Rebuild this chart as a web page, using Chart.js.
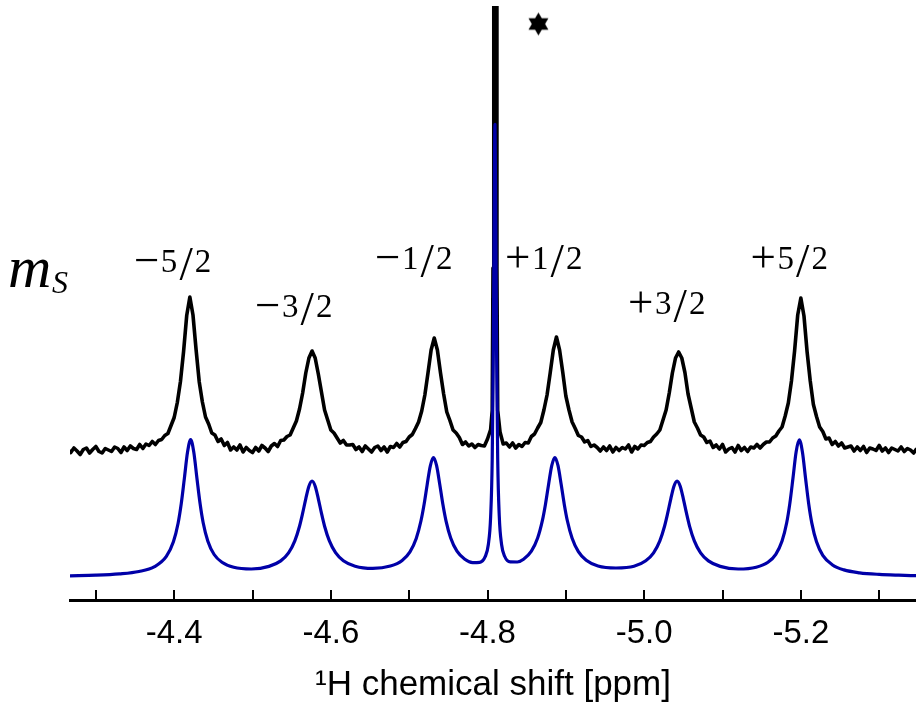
<!DOCTYPE html>
<html>
<head>
<meta charset="utf-8">
<script src="https://cdn.jsdelivr.net/npm/chart.js@4/dist/chart.umd.min.js"></script>
<style>
  html, body { margin: 0; padding: 0; background: #ffffff; }
  #wrap { width: 916px; height: 708px; }
</style>
</head>
<body>
<div id="wrap"><canvas id="spectrum" width="916" height="708"></canvas></div>
<script>
// 1H NMR spectrum: measured trace (black, offset) and simulated trace (blue).

// x-axis ticks (ppm) and their printed labels
const tickPositions = [-4.3, -4.4, -4.5, -4.6, -4.7, -4.8, -4.9, -5.0, -5.1, -5.2, -5.3];
const tickLabels    = ['', '-4.4', '', '-4.6', '', '-4.8', '', '-5.0', '', '-5.2', ''];

// spin-state labels for the six hyperfine lines
const spinLabels = ['\u22125/2', '\u22123/2', '\u22121/2', '+1/2', '+3/2', '+5/2'];

// measured spectrum: chemical shift (ppm) and intensity (a.u., offset trace)
const expShift = [
  -4.264,-4.268,-4.272,-4.276,-4.280,-4.284,-4.288,-4.292,-4.296,-4.300,
  -4.304,-4.308,-4.312,-4.316,-4.320,-4.324,-4.328,-4.332,-4.336,-4.340,
  -4.344,-4.348,-4.352,-4.356,-4.360,-4.364,-4.368,-4.372,-4.376,-4.380,
  -4.384,-4.388,-4.392,-4.396,-4.400,-4.404,-4.408,-4.412,-4.416,-4.420,
  -4.424,-4.428,-4.432,-4.436,-4.440,-4.444,-4.448,-4.452,-4.456,-4.460,
  -4.464,-4.468,-4.472,-4.476,-4.480,-4.484,-4.488,-4.492,-4.496,-4.500,
  -4.504,-4.508,-4.512,-4.516,-4.520,-4.524,-4.528,-4.532,-4.536,-4.540,
  -4.544,-4.548,-4.552,-4.556,-4.560,-4.564,-4.568,-4.572,-4.576,-4.580,
  -4.584,-4.588,-4.592,-4.596,-4.600,-4.604,-4.608,-4.612,-4.616,-4.620,
  -4.624,-4.628,-4.632,-4.636,-4.640,-4.644,-4.648,-4.652,-4.656,-4.660,
  -4.664,-4.668,-4.672,-4.676,-4.680,-4.684,-4.688,-4.692,-4.696,-4.700,
  -4.704,-4.708,-4.712,-4.716,-4.720,-4.724,-4.728,-4.732,-4.736,-4.740,
  -4.744,-4.748,-4.752,-4.756,-4.760,-4.764,-4.768,-4.772,-4.776,-4.780,
  -4.784,-4.788,-4.792,-4.796,-4.800,
  -4.804,-4.806,-4.807,-4.808,-4.8095,-4.811,-4.812,-4.813,-4.816,
  -4.820,-4.824,-4.828,-4.832,-4.836,-4.840,-4.844,-4.848,-4.852,-4.856,-4.860,
  -4.864,-4.868,-4.872,-4.876,-4.880,-4.884,-4.888,-4.892,-4.896,-4.900,
  -4.904,-4.908,-4.912,-4.916,-4.920,-4.924,-4.928,-4.932,-4.936,-4.940,
  -4.944,-4.948,-4.952,-4.956,-4.960,-4.964,-4.968,-4.972,-4.976,-4.980,
  -4.984,-4.988,-4.992,-4.996,-5.000,-5.004,-5.008,-5.012,-5.016,-5.020,
  -5.024,-5.028,-5.032,-5.036,-5.040,-5.044,-5.048,-5.052,-5.056,-5.060,
  -5.064,-5.068,-5.072,-5.076,-5.080,-5.084,-5.088,-5.092,-5.096,-5.100,
  -5.104,-5.108,-5.112,-5.116,-5.120,-5.124,-5.128,-5.132,-5.136,-5.140,
  -5.144,-5.148,-5.152,-5.156,-5.160,-5.164,-5.168,-5.172,-5.176,-5.180,
  -5.184,-5.188,-5.192,-5.196,-5.200,-5.204,-5.208,-5.212,-5.216,-5.220,
  -5.224,-5.228,-5.232,-5.236,-5.240,-5.244,-5.248,-5.252,-5.256,-5.260,
  -5.264,-5.268,-5.272,-5.276,-5.280,-5.284,-5.288,-5.292,-5.296,-5.300,
  -5.304,-5.308,-5.312,-5.316,-5.320,-5.324,-5.328,-5.332,-5.336,-5.340,
  -5.344,-5.348
];
const expIntensity = [
  150.5,147.5,152,149,145.5,150.5,152,147,150.5,153.5,
  148.5,147,151.5,150,148.5,153,151.5,147.5,153,149.5,
  154,151.5,150.5,155.5,151.5,156,154.5,158.5,155.5,159.5,
  160.5,164.5,166.5,174.5,182.5,197.5,218.5,248.5,284.5,303,
  285,250,218,198,183,176,167,165,158.5,161,
  154.5,157.5,150,153,150,155,148,152.5,149.5,147.5,
  152.5,149,154.5,152,148.5,154,156.5,153.5,159.5,160,
  163.5,165,172,179,191,207,227,242,249,242,
  226,208,190,180,170,167,162,157,159.5,155,
  155,155.5,150.5,153,148.5,154,151,148,152.5,154,
  149.5,153,148,153.5,152.5,156.5,153,157.5,158.5,163,
  165.5,171.5,178,189,205,227,250,262,250,227,
  206,188,179.5,170,167,162.5,155.5,158,154,156,
  152.5,155.5,154.5,154,161,
  170.5,189.5,332,702,1400,702,332,189.5,168,
  156,157,153,157,152,155.5,153.5,157.5,157,163.5,166,
  172,177.5,190,205,227,250,263,250,228,204,
  190,178,171.5,164.5,163,158,159.5,153.5,155,152.5,
  149,153,149.5,154,148,152.5,149.5,152.5,151,155,
  148,153.5,151,155,154.5,157.5,158.5,163,166,170,
  180,190,207,227,242,248,242,227.5,206,192,
  178,172,165,163,157.5,159,152.5,155,151,155.5,
  148,151,152.5,148,154.5,149.5,152.5,148.5,153,152,
  155.5,152,155.5,158,158,162,164,169,173,184,
  197,219,249,285,302,284,248,219,195.5,183.5,
  173,168.5,161,162,155.5,158.5,154,157,152,153,
  154,149,153,149.5,153.5,147.5,152,151,149.5,154.5,
  149,152,147.5,152,150.5,149,153,148.5,151.5,150,
  147,151.5
];

// simulated spectrum: chemical shift (ppm) and intensity (a.u.)
const simShift = [
  -4.267,-4.300,-4.330,-4.355,-4.375,-4.390,-4.399,-4.405,-4.409,-4.413,-4.417,
  -4.421,-4.425,-4.429,-4.433,-4.437,-4.443,-4.451,-4.461,-4.476,-4.4985,
  -4.521,-4.536,-4.546,-4.554,-4.560,-4.564,-4.568,-4.572,-4.576,-4.580,
  -4.584,-4.588,-4.592,-4.598,-4.606,-4.616,-4.631,-4.6535,
  -4.676,-4.691,-4.701,-4.709,-4.715,-4.719,-4.723,-4.727,-4.731,-4.735,
  -4.739,-4.743,-4.747,-4.753,-4.761,-4.771,-4.781,-4.790,-4.797,-4.801,
  -4.804,-4.806,-4.8075,-4.8085,-4.8095,-4.8105,-4.8115,-4.813,-4.815,-4.818,
  -4.822,-4.829,-4.838,-4.846,-4.856,-4.864,-4.870,-4.874,-4.878,-4.882,
  -4.886,-4.890,-4.894,-4.898,-4.902,-4.908,-4.916,-4.926,-4.941,-4.964,
  -4.987,-5.002,-5.012,-5.020,-5.026,-5.030,-5.034,-5.038,-5.042,-5.046,
  -5.050,-5.054,-5.058,-5.064,-5.072,-5.082,-5.097,-5.120,
  -5.143,-5.158,-5.168,-5.176,-5.182,-5.186,-5.190,-5.194,-5.198,-5.202,
  -5.206,-5.210,-5.214,-5.220,-5.228,-5.240,-5.255,-5.275,-5.300,-5.325,-5.348
];
const simIntensity = [
  24.2,24.8,26.1,28.5,33.4,43.6,58.2,76.8,96.2,121.6,147.7,
  160.3,148.0,122.0,96.7,77.3,58.8,45.5,37.7,32.7,31.0,
  33.6,39.1,47.1,59.2,73.8,86.8,101.2,113.8,119.0,113.8,
  101.2,86.8,73.8,59.3,47.3,39.3,33.8,31.6,
  34.0,39.6,48.2,61.6,79.0,95.5,115.6,134.2,142.4,134.3,
  115.8,95.7,79.2,62.0,48.8,40.7,37.4,37.7,43.3,55.2,
  83.6,141.1,253.7,386.7,475.7,387.0,254.0,141.3,83.7,55.3,
  43.5,38.1,38.0,40.8,48.9,62.0,79.3,95.8,115.8,134.4,
  142.5,134.3,115.7,95.6,79.0,61.7,48.3,39.7,34.0,32.0,
  33.7,39.2,47.2,59.2,73.8,86.8,101.2,113.8,118.9,113.8,
  101.2,86.8,73.7,59.1,47.1,39.1,33.6,31.0,
  32.8,37.7,45.7,59.0,77.5,96.9,122.2,148.3,160.2,148.1,
  121.8,96.3,76.9,58.2,44.7,35.3,30.1,27.2,25.6,24.8,24.3
];

// impurity marker above the sharp central line
const impurityMark = [{ x: -4.865, y: 576 }];

// filled six-pointed star used as the marker glyph
function makeStar(r) {
  const size = Math.ceil(r * 2 + 2);
  const c = document.createElement('canvas');
  c.width = size; c.height = size;
  const g = c.getContext('2d');
  g.fillStyle = '#000';
  const cx = size / 2, cy = size / 2;
  [-90, 90].forEach(start => {
    g.beginPath();
    for (let k = 0; k < 3; k++) {
      const a = (start + k * 120) * Math.PI / 180;
      const px = cx + r * Math.cos(a), py = cy + r * Math.sin(a);
      if (k === 0) g.moveTo(px, py); else g.lineTo(px, py);
    }
    g.closePath();
    g.fill();
  });
  return c;
}

// typeset a short math-style label like −5/2 centred at (cx, baseline)
function drawFraction(ctx, text, cx, by) {
  const styles = {
    sign:  { size: 45, adv: 27, dy: 3 },
    digit: { size: 33, adv: 18, dy: 0 },
    slash: { size: 48, adv: 16, dy: 8 }
  };
  const chars = Array.from(text);
  const kinds = chars.map(c => c === '/' ? styles.slash : (c === '+' || c === '\u2212') ? styles.sign : styles.digit);
  const total = kinds.reduce((s, k) => s + k.adv, 0);
  let x = cx - total / 2;
  ctx.textAlign = 'center';
  ctx.textBaseline = 'alphabetic';
  chars.forEach((c, i) => {
    const k = kinds[i];
    ctx.font = k.size + 'px "Liberation Serif", serif';
    ctx.fillText(c, x + k.adv / 2, by + k.dy);
    x += k.adv;
  });
}

const decorPlugin = {
  id: 'spectrumDecor',
  afterDraw(chart, args, opts) {
    const ctx = chart.ctx;
    const xs = chart.scales.x, ys = chart.scales.y;
    const bottom = chart.chartArea.bottom;
    ctx.save();
    // tick marks pointing into the plot
    ctx.strokeStyle = '#000';
    ctx.lineWidth = 2;
    xs.ticks.forEach(t => {
      const px = Math.round(xs.getPixelForValue(t.value));
      ctx.beginPath();
      ctx.moveTo(px, bottom);
      ctx.lineTo(px, bottom - 10);
      ctx.stroke();
    });
    // spin-state labels
    ctx.fillStyle = '#000';
    opts.anchors.forEach((a, i) => {
      drawFraction(ctx, spinLabels[i], xs.getPixelForValue(a[0]), ys.getPixelForValue(a[1]));
    });
    // m_S heading
    const mx = xs.getPixelForValue(opts.heading[0]);
    const my = ys.getPixelForValue(opts.heading[1]);
    ctx.textAlign = 'left';
    ctx.textBaseline = 'alphabetic';
    ctx.font = 'italic 60px "Liberation Serif", serif';
    ctx.fillText('m', mx, my);
    ctx.font = 'italic 32px "Liberation Serif", serif';
    ctx.fillText('S', mx + 44, my + 6);
    ctx.restore();
  }
};

new Chart(document.getElementById('spectrum'), {
  type: 'scatter',
  data: {
    datasets: [
      {
        label: 'simulated',
        data: simShift.map((x, i) => ({ x, y: simIntensity[i] })),
        showLine: true,
        borderColor: '#0000a8',
        borderWidth: 3.2,
        pointRadius: 0,
        cubicInterpolationMode: 'monotone',
        borderJoinStyle: 'round',
        order: 1
      },
      {
        label: 'measured',
        data: expShift.map((x, i) => ({ x, y: expIntensity[i] })),
        showLine: true,
        borderColor: '#000000',
        borderWidth: 3.6,
        pointRadius: 0,
        tension: 0,
        borderJoinStyle: 'round',
        order: 2
      },
      {
        label: 'impurity',
        data: impurityMark,
        showLine: false,
        pointStyle: makeStar(11.5),
        pointRadius: 12,
        order: 0
      }
    ]
  },
  options: {
    responsive: false,
    maintainAspectRatio: false,
    devicePixelRatio: 1,
    animation: false,
    events: [],
    layout: { autoPadding: false, padding: { left: 70, right: 0, top: 6, bottom: 0 } },
    plugins: {
      legend: { display: false },
      tooltip: { enabled: false },
      spectrumDecor: {
        anchors: [
          [-4.3980, 328], [-4.5525, 283], [-4.7057, 331],
          [-4.8717, 331], [-5.0287, 286], [-5.1851, 331]
        ],
        heading: [-4.188, 313]
      }
    },
    scales: {
      x: {
        type: 'linear',
        reverse: true,
        min: -5.347,
        max: -4.267,
        afterBuildTicks: s => { s.ticks = tickPositions.map(v => ({ value: v })); },
        afterFit: s => { s.height = 108; },
        ticks: {
          autoSkip: false,
          maxRotation: 0,
          padding: 0,
          color: '#000',
          font: { family: '"Liberation Sans", Arial, sans-serif', size: 33 },
          callback: (v, i) => tickLabels[i]
        },
        grid: { display: false, drawTicks: true, tickLength: 14 },
        border: { display: true, color: '#000', width: 3 },
        title: {
          display: true,
          text: '\u00b9H chemical shift [ppm]',
          color: '#000',
          font: { family: '"Liberation Sans", Arial, sans-serif', size: 35 },
          padding: { top: 0, bottom: 2 }
        }
      },
      y: { type: 'linear', display: false, min: 0, max: 594 }
    }
  },
  plugins: [decorPlugin]
});
</script>
</body>
</html>
